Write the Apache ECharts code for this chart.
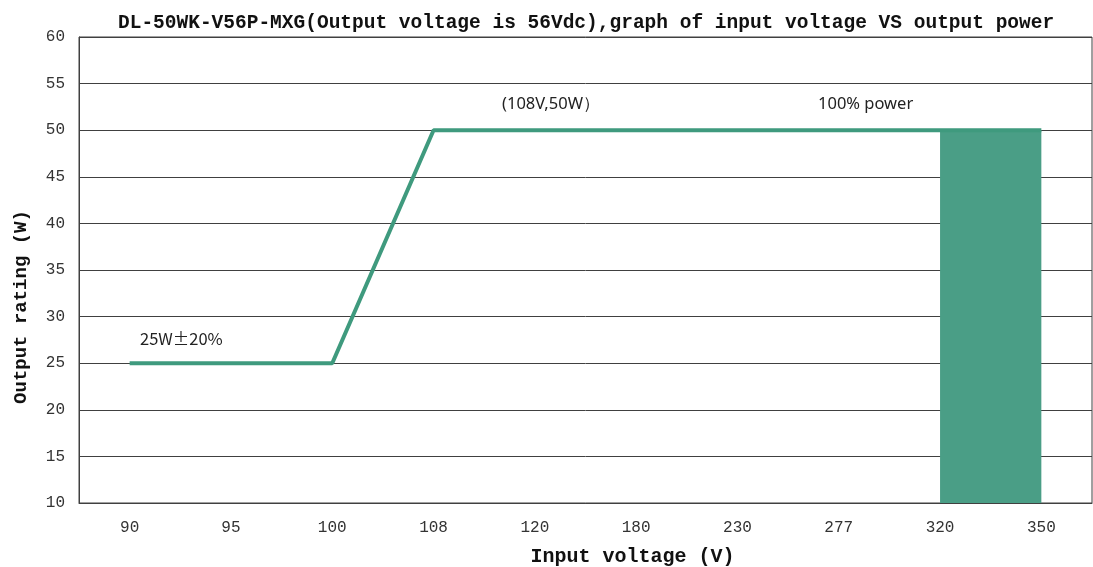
<!DOCTYPE html>
<html><head><meta charset="utf-8">
<script src="https://cdn.jsdelivr.net/npm/echarts@6/dist/echarts.min.js"></script>
<style>html,body{margin:0;padding:0;background:#fff}#c{width:1093px;height:567px}</style>
</head><body><div id="c"></div>
<script>
const categories = ['90','95','100','108','120','180','230','277','320','350'];
const powerValues = [25,25,25,50,50,50,50,50,50,50];
const fullPowerBand = [null,null,null,null,null,null,null,null,50,50];
const yTicks = {min:10, max:60, interval:5};
const titleText = 'DL-50WK-V56P-MXG(Output voltage is 56Vdc),graph of input voltage VS output power';
const notes = ['(108V,50W）','100% power','25W±20%'];

const chart = echarts.init(document.getElementById('c'));
chart.setOption({
  animation:false,
  backgroundColor:'#fff',
  title:{text:titleText,left:113,top:8,textStyle:{fontFamily:'Liberation Mono',fontWeight:'bold',fontSize:19.5,color:'#111'}},
  grid:{left:79,right:1,top:37,bottom:64,outerBoundsMode:'none',containLabel:false,show:true,borderColor:'#404040',borderWidth:1,backgroundColor:'transparent'},
  xAxis:{type:'category',data:categories,boundaryGap:true,
    axisLine:{lineStyle:{color:'#404040',width:1}},axisTick:{show:false},
    axisLabel:{margin:17,fontFamily:'Liberation Mono',fontSize:16,color:'#333'},
    name:'Input voltage (V)',nameLocation:'middle',nameGap:44,
    nameTextStyle:{fontFamily:'Liberation Mono',fontWeight:'bold',fontSize:20,color:'#111',padding:[0,0,0,94]}},
  yAxis:{type:'value',min:yTicks.min,max:yTicks.max,interval:yTicks.interval,
    axisLine:{show:true,lineStyle:{color:'#404040',width:1}},axisTick:{show:false},
    splitLine:{lineStyle:{color:'#404040',width:1}},
    axisLabel:{margin:14,fontFamily:'Liberation Mono',fontSize:16,color:'#333'},
    name:'Output rating (W)',nameLocation:'middle',nameGap:48,
    nameTextStyle:{fontFamily:'Liberation Mono',fontWeight:'bold',fontSize:19,color:'#111',padding:[0,74,0,0]}},
  graphic:[
    {type:'text',left:502,top:96,style:{text:notes[0],font:'16.5px "Noto Sans"',fill:'#222'}},
    {type:'text',left:818,top:96,style:{text:notes[1],font:'16.5px "Noto Sans"',fill:'#222'}},
    {type:'text',left:140,top:330,style:{text:notes[2],font:'16.5px "Noto Sans CJK SC"',fill:'#222'}}
  ],
  series:[
    {type:'line',data:fullPowerBand,symbol:'none',lineStyle:{width:0},
     areaStyle:{color:'#4a9e86',opacity:1,origin:'start'},z:1},
    {type:'line',data:powerValues,symbol:'none',lineStyle:{color:'#3f9a7e',width:4},z:3}
  ]
});
</script></body></html>
